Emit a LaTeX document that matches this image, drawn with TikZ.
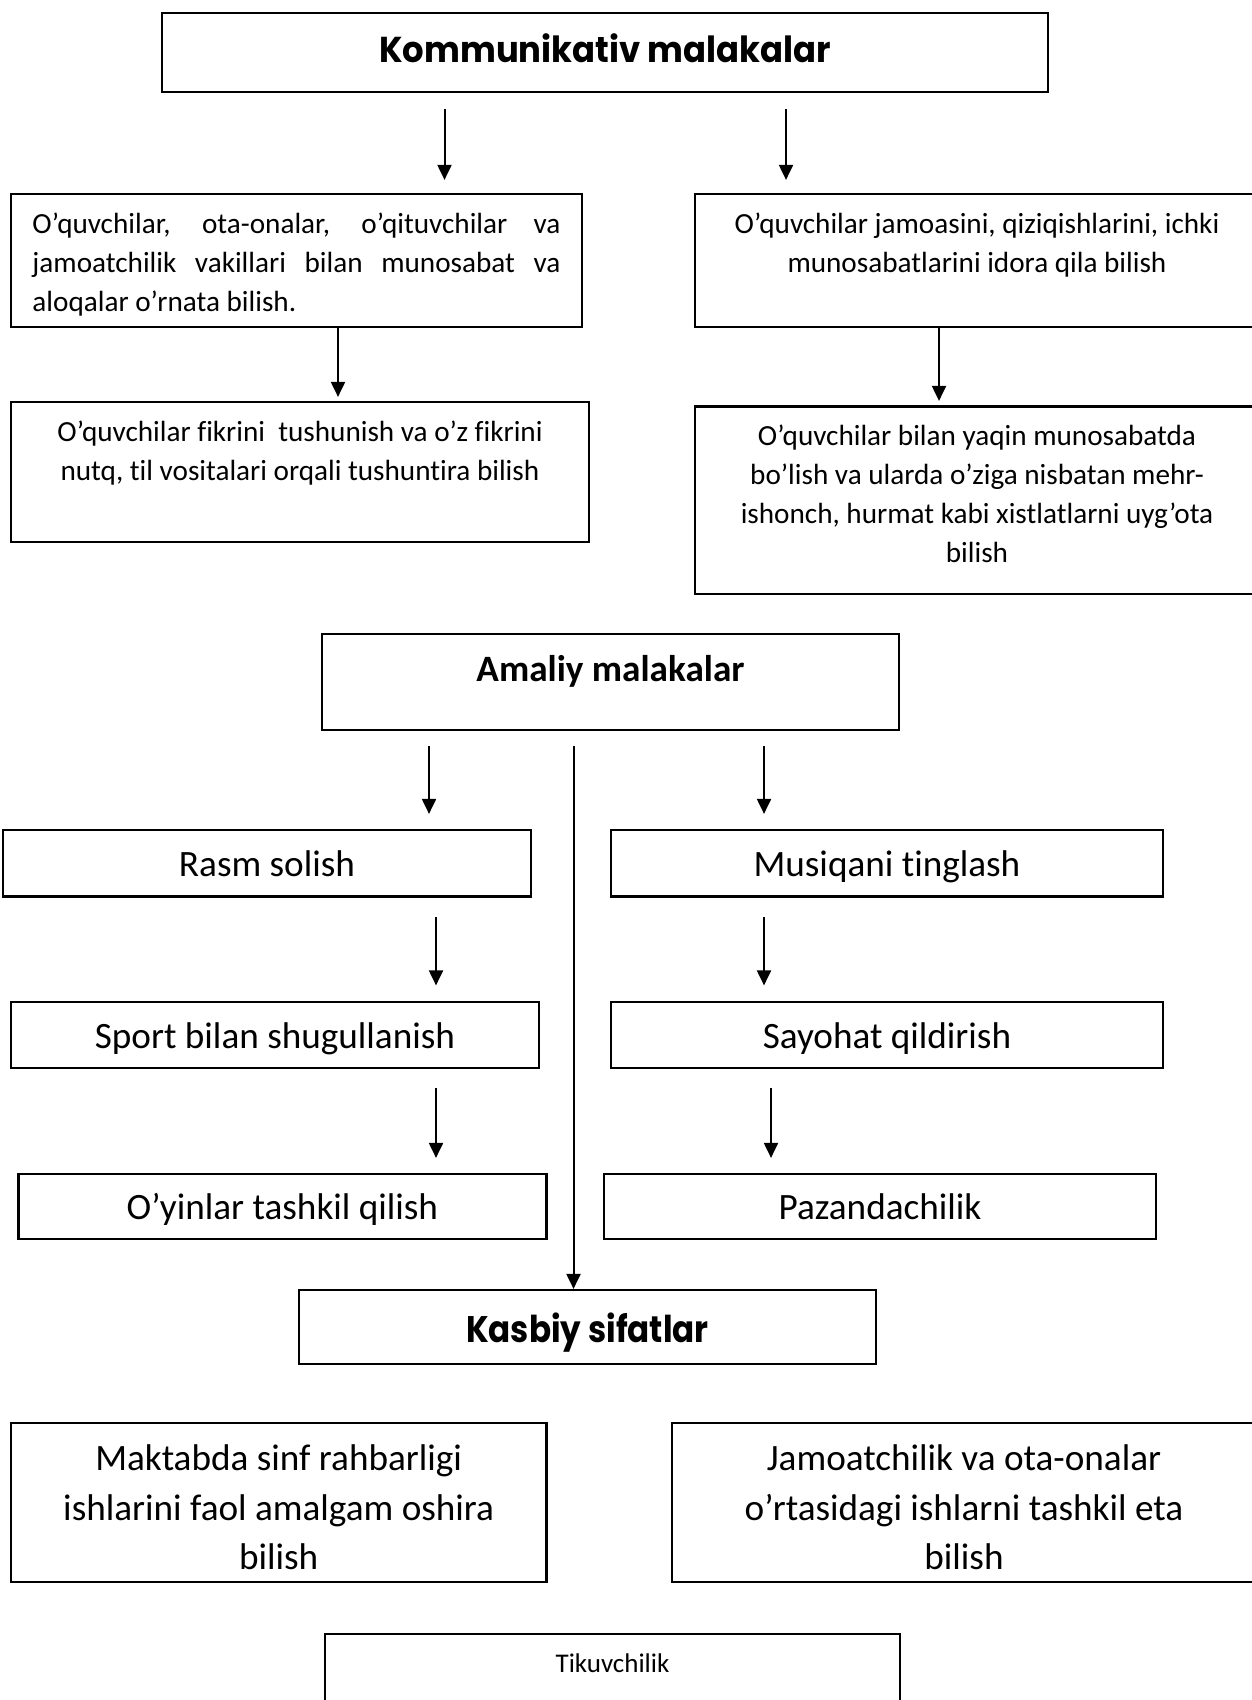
\documentclass[tikz,border=0pt]{standalone}
\usepackage{fontspec}
\setmainfont{Carlito}[Ligatures=NoCommon]
\newfontfamily\headfont{Poppins}
\usetikzlibrary{arrows.meta,positioning}

\begin{document}
\begin{tikzpicture}[x=0.5pt,y=-0.5pt,
    box/.style={draw, line width=1.1pt, inner sep=0pt, align=center},
    arr/.style={-{Triangle[length=7.5pt,width=7pt]}, line width=1pt},
    small/.style={font=\fontsize{14.6}{19.5}\selectfont, align=center, inner sep=0pt},
    big/.style={font=\fontsize{18.6}{24.75}\selectfont, text height=13pt, text depth=0pt},
    head/.style={font=\headfont\bfseries\fontsize{#1}{#1}\selectfont, text depth=0pt}]
    \useasboundingbox (0,0) rectangle (1251,1700);

    % Kommunikativ malakalar
    \node[box, head=18, text height=9.7pt, minimum width=443.25pt, minimum height=39.5pt] (kom) at (605,52.5)
        {\scalebox{0.94}[1]{Kommunikativ malakalar}};
    \node[box, minimum width=285.5pt, minimum height=66.5pt] (l1) at (296.5,260.5) {};
    \node[small, below=9.6pt of l1.north] (l1t)
        {\parbox{264pt}{\hyphenpenalty=10000
        O’quvchilar, ota-onalar, o’qituvchilar va\linebreak
        jamoatchilik vakillari bilan munosabat va\linebreak
        aloqalar o’rnata bilish.}};
    \node[box, minimum width=282pt, minimum height=66.5pt] (r1) at (977,260.5) {};
    \node[small, below=9.6pt of r1.north] (r1t)
        {O’quvchilar jamoasini, qiziqishlarini, ichki\\munosabatlarini idora qila bilish};
    \node[box, minimum width=289pt, minimum height=70pt] (l2) at (300,472) {};
    \node[small, below=9.6pt of l2.north] (l2t)
        {O’quvchilar fikrini \ tushunish va o’z fikrini\\nutq, til vositalari orqali tushuntira bilish};
    \node[box, minimum width=282pt, minimum height=93.75pt] (r2) at (977,500.25) {};
    \node[small, below=9.6pt of r2.north] (r2t)
        {O’quvchilar bilan yaqin munosabatda\\bo’lish va ularda o’ziga nisbatan mehr-\\ishonch, hurmat kabi xistlatlarni uyg’ota\\bilish};

    % Amaliy malakalar
    \node[box, minimum width=288.5pt, minimum height=48pt] (ama) at (610.5,682) {};
    \node[big, inner sep=0pt, below=11pt of ama.north] (amat) {\bfseries Amaliy malakalar};
    \node[box, big, minimum width=264pt, minimum height=33.25pt] (rasm) at (267,863.25) {Rasm solish};
    \node[box, big, minimum width=276pt, minimum height=33.25pt] (musiqa) at (887,863.25) {Musiqani tinglash};
    \node[box, big, minimum width=264pt, minimum height=33pt] (sport) at (275,1035) {Sport bilan shugullanish};
    \node[box, big, minimum width=276pt, minimum height=33pt] (sayohat) at (887,1035) {Sayohat qildirish};
    \node[box, big, minimum width=264pt, minimum height=32.5pt] (oyin) at (282.4,1206.5) {O’yinlar tashkil qilish};
    \node[box, big, minimum width=276pt, minimum height=32.5pt] (pazanda) at (880,1206.5) {Pazandachilik};

    % Kasbiy sifatlar
    \node[box, head=18.5, text height=15.1pt, minimum width=288.5pt, minimum height=37pt] (kas) at (587.5,1327)
        {\scalebox{0.88}[1]{Kasbiy sifatlar}};
    \node[box, minimum width=267.7pt, minimum height=79.5pt] (maktab) at (278.7,1502.5) {};
    \node[small, font=\fontsize{18.6}{24.75}\selectfont, below=11.2pt of maktab.north] (maktabt)
        {Maktabda sinf rahbarligi\\ishlarini faol amalgam oshira\\bilish};
    \node[box, minimum width=292pt, minimum height=79.5pt] (jamoat) at (964,1502.5) {};
    \node[small, font=\fontsize{18.6}{24.75}\selectfont, below=11.2pt of jamoat.north] (jamoatt)
        {Jamoatchilik va ota-onalar\\o’rtasidagi ishlarni tashkil eta\\bilish};
    \node[box, minimum width=287.5pt, minimum height=43pt] (tikuv) at (612.5,1677) {};
    \node[font=\fontsize{13.5}{16}\selectfont, inner sep=0pt, below=10pt of tikuv.north] (tikuvt) {Tikuvchilik};

    % arrow columns
    \coordinate (c1) at (444.5,0);
    \coordinate (c2) at (786,0);
    \coordinate (c3) at (338,0);
    \coordinate (c4) at (939,0);
    \coordinate (c5) at (429,0);
    \coordinate (c6) at (764,0);
    \coordinate (c7) at (573.5,0);
    \coordinate (c8) at (436,0);
    \coordinate (c9) at (771,0);

    % Draw arrows
    \draw[arr, shorten <=8pt, shorten >=6.5pt] (kom.south -| c1) -- (l1.north -| c1);
    \draw[arr, shorten <=8pt, shorten >=6.5pt] (kom.south -| c2) -- (r1.north -| c2);
    \draw[arr, shorten >=2pt] (l1.south -| c3) -- (l2.north -| c3);
    \draw[arr, shorten >=2.25pt] (r1.south -| c4) -- (r2.north -| c4);
    \draw[arr, shorten <=7.5pt, shorten >=7.5pt] (ama.south -| c5) -- (rasm.north -| c5);
    \draw[arr, shorten <=7.5pt, shorten >=7.5pt] (ama.south -| c6) -- (musiqa.north -| c6);
    \draw[arr, shorten <=7.5pt] (ama.south -| c7) -- (kas.north -| c7);
    \draw[arr, shorten <=9.75pt, shorten >=7.75pt] (rasm.south -| c8) -- (sport.north -| c8);
    \draw[arr, shorten <=9.75pt, shorten >=7.75pt] (musiqa.south -| c6) -- (sayohat.north -| c6);
    \draw[arr, shorten <=9.5pt, shorten >=7.5pt] (sport.south -| c8) -- (oyin.north -| c8);
    \draw[arr, shorten <=9.5pt, shorten >=7.5pt] (sayohat.south -| c9) -- (pazanda.north -| c9);
\end{tikzpicture}
\end{document}
